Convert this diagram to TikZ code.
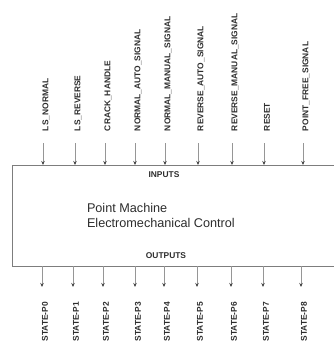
\documentclass[tikz,border=0pt]{standalone}
\usepackage{fontspec}
\setmainfont{Liberation Sans}
\usetikzlibrary{arrows.meta}

\definecolor{pmtext}{RGB}{45,45,45}
\definecolor{pmline}{RGB}{125,125,125}
\definecolor{pmwire}{RGB}{150,150,150}
\definecolor{pmhead}{RGB}{70,70,70}

\begin{document}
\begin{tikzpicture}[
  x=0.75pt,
  y=-0.75pt,
  every node/.style={inner sep=0pt, outer sep=0pt},
  pmTitle/.style={font=\fontsize{9.5}{11.2}\selectfont, text=pmtext, align=left},
  pmTag/.style={font=\bfseries\fontsize{6.3}{7}\selectfont, text=pmtext},
  pmIn/.style={pmTag, rotate=90, anchor=west},
  pmOut/.style={pmTag, rotate=90, anchor=east},
  pmWire/.style={draw=pmwire, line width=0.6pt, -{Stealth[length=3pt, width=2.6pt, color=pmhead]}},
  pmBox/.style={draw=pmline, line width=0.75pt, minimum width=256pt, minimum height=75.75pt}
]

  \path[use as bounding box] (0,0) rectangle (334,347);

  % main block, right side runs off the page
  \node[pmBox, anchor=north west] (pm) at (12,165) {};

  \node[pmTag, anchor=base] (inputs) at (164,177) {INPUTS};
  \node[pmTag, anchor=base] (outputs) at (166,258) {OUTPUTS};
  \node[pmTitle, anchor=north west] (title) at (87,203) {Point Machine\\Electromechanical Control};

  % inputs
  \coordinate (w1) at (43,143);
  \coordinate (w2) at (75,143);
  \coordinate (w3) at (105,143);
  \coordinate (w4) at (135,143);
  \coordinate (w5) at (165,143);
  \coordinate (w6) at (198,143);
  \coordinate (w7) at (232,143);
  \coordinate (w8) at (264,143);
  \coordinate (w9) at (303,143);

  \node[pmIn] (in1) at (46,131) {LS\_NORMAL};
  \node[pmIn] (in2) at (78,131) {LS\_REVERSE};
  \node[pmIn] (in3) at (108,131) {CRACK\_HANDLE};
  \node[pmIn] (in4) at (138,131) {NORMAL\_AUTO\_SIGNAL};
  \node[pmIn] (in5) at (168,131) {NORMAL\_MANUAL\_SIGNAL};
  \node[pmIn] (in6) at (201,131) {REVERSE\_AUTO\_SIGNAL};
  \node[pmIn] (in7) at (235,131) {REVERSE\_MANUAL\_SIGNAL};
  \node[pmIn] (in8) at (267,131) {RESET};
  \node[pmIn] (in9) at (306,131) {POINT\_FREE\_SIGNAL};

  \draw[pmWire] (w1) -- (w1 |- pm.north);
  \draw[pmWire] (w2) -- (w2 |- pm.north);
  \draw[pmWire] (w3) -- (w3 |- pm.north);
  \draw[pmWire] (w4) -- (w4 |- pm.north);
  \draw[pmWire] (w5) -- (w5 |- pm.north);
  \draw[pmWire] (w6) -- (w6 |- pm.north);
  \draw[pmWire] (w7) -- (w7 |- pm.north);
  \draw[pmWire] (w8) -- (w8 |- pm.north);
  \draw[pmWire] (w9) -- (w9 |- pm.north);

  % outputs
  \coordinate (v1) at (42,287);
  \coordinate (v2) at (73,287);
  \coordinate (v3) at (103,287);
  \coordinate (v4) at (135,287);
  \coordinate (v5) at (164,287);
  \coordinate (v6) at (197,287);
  \coordinate (v7) at (231,287);
  \coordinate (v8) at (263,287);
  \coordinate (v9) at (301,287);

  \draw[pmWire] (v1 |- pm.south) -- (v1);
  \draw[pmWire] (v2 |- pm.south) -- (v2);
  \draw[pmWire] (v3 |- pm.south) -- (v3);
  \draw[pmWire] (v4 |- pm.south) -- (v4);
  \draw[pmWire] (v5 |- pm.south) -- (v5);
  \draw[pmWire] (v6 |- pm.south) -- (v6);
  \draw[pmWire] (v7 |- pm.south) -- (v7);
  \draw[pmWire] (v8 |- pm.south) -- (v8);
  \draw[pmWire] (v9 |- pm.south) -- (v9);

  \node[pmOut] (out1) at (45,302) {STATE-P0};
  \node[pmOut] (out2) at (76,302) {STATE-P1};
  \node[pmOut] (out3) at (106,302) {STATE-P2};
  \node[pmOut] (out4) at (138,302) {STATE-P3};
  \node[pmOut] (out5) at (167,302) {STATE-P4};
  \node[pmOut] (out6) at (200,302) {STATE-P5};
  \node[pmOut] (out7) at (234,302) {STATE-P6};
  \node[pmOut] (out8) at (266,302) {STATE-P7};
  \node[pmOut] (out9) at (304,302) {STATE-P8};

\end{tikzpicture}
\end{document}
